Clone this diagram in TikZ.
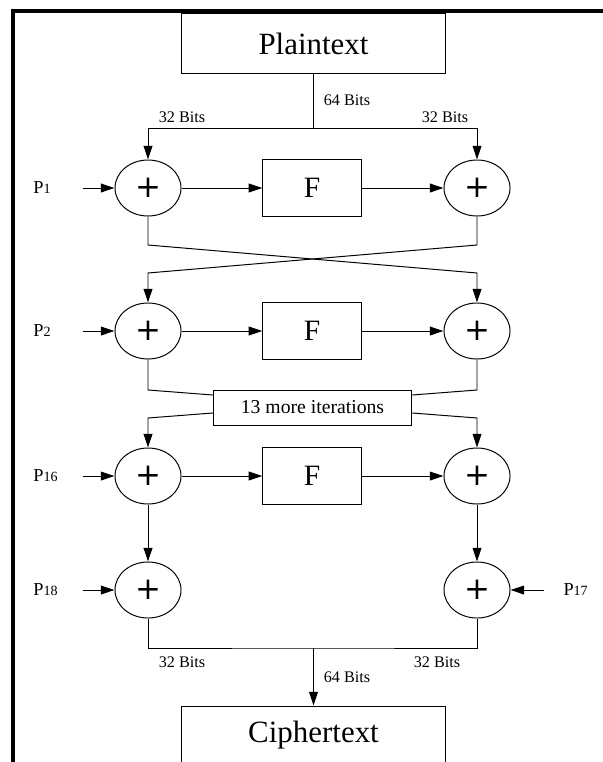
\documentclass[tikz,border=0pt]{standalone}
\usepackage{fontspec}
\setmainfont{Liberation Serif}
\newfontfamily\plusfont{DejaVu Sans}
\usetikzlibrary{arrows.meta,shapes.geometric}
\newcommand{\subkey}[1]{P{\fontsize{10}{10}\selectfont #1}}

\begin{document}
\begin{tikzpicture}[x=0.025cm,y=-0.025cm,line width=0.7pt,>={Triangle[length=3.4mm,width=2.2mm]},
  xorop/.style={draw,ellipse,minimum width=1.65cm,minimum height=1.4cm,inner sep=0pt,
    font=\plusfont\fontsize{22}{22}\selectfont},
  ffun/.style={draw,minimum width=2.46cm,minimum height=1.42cm,inner sep=0pt,
    font=\fontsize{21}{24}\selectfont},
  bigbox/.style={draw,minimum width=6.6cm,minimum height=1.475cm,inner sep=0pt,
    font=\fontsize{22}{26}\selectfont},
  iterbox/.style={draw,minimum width=4.96cm,minimum height=0.875cm,inner sep=0pt,
    font=\fontsize{14}{16}\selectfont},
  keyin/.style={anchor=west,inner sep=0pt,text width=1.225cm,font=\fontsize{13}{15}\selectfont},
  lbl/.style={inner sep=0pt,font=\fontsize{11.5}{13}\selectfont}]
  \clip (0,0) rectangle (603,762);
  % marco
  \draw[line width=2.4pt] (603,11) -- (13,11) -- (13,780);
  % cajas
  \node[bigbox] (plain) at (313.5,43.5) {Plaintext};
  \node[bigbox] (cipher) at (313.5,735.5) {Ciphertext};
  \node[iterbox] (iter) at (312.5,407.5) {13 more iterations};
  % xor y F
  \node[xorop] (l1) at (148,188) {+};
  \node[xorop] (r1) at (477,188) {+};
  \node[ffun] (f1) at (312,188) {F};
  \node[xorop] (l2) at (148,331) {+};
  \node[xorop] (r2) at (477,331) {+};
  \node[ffun] (f2) at (312,331) {F};
  \node[xorop] (l3) at (148,476) {+};
  \node[xorop] (r3) at (477,476) {+};
  \node[ffun] (f3) at (312,476) {F};
  \node[xorop] (l4) at (148,590) {+};
  \node[xorop] (r4) at (477,590) {+};
  % subclaves
  \node[keyin] (p1) at (33,188) {\subkey{1}};
  \node[keyin] (p2) at (33,331) {\subkey{2}};
  \node[keyin] (p16) at (33,476) {\subkey{16}};
  \node[keyin] (p18) at (33,590) {\subkey{18}};
  \node[anchor=west,inner ysep=0pt,inner xsep=0.475cm,font=\fontsize{13}{15}\selectfont]
    (p17) at (544,590) {\subkey{17}};
  % etiquetas
  \node[lbl] (b64a) at (347,100) {64 Bits};
  \node[lbl] (b32a) at (182,117) {32 Bits};
  \node[lbl] (b32b) at (445,117) {32 Bits};
  \node[lbl] (b32c) at (182,662) {32 Bits};
  \node[lbl] (b32d) at (437,662) {32 Bits};
  \node[lbl] (b64b) at (347,677) {64 Bits};
  % puntos de paso
  \coordinate (split) at (313.5,128);
  \coordinate (join) at (313.5,648);
  \coordinate (xa) at (148,245);
  \coordinate (xb) at (477,245);
  \coordinate (xc) at (148,273);
  \coordinate (xd) at (477,273);
  \coordinate (ya) at (148,390);
  \coordinate (yb) at (477,390);
  \coordinate (yc) at (148,418);
  \coordinate (yd) at (477,418);
  % entrada
  \draw (plain) -- (split);
  \draw[->] (split) -| (l1);
  \draw[->] (split) -| (r1);
  % rondas
  \draw[->] (p1) -- (l1);
  \draw[->] (l1) -- (f1);
  \draw[->] (f1) -- (r1);
  \draw[->] (l1) -- (xa) -- (xd) -- (r2);
  \draw[->] (r1) -- (xb) -- (xc) -- (l2);
  \draw[->] (p2) -- (l2);
  \draw[->] (l2) -- (f2);
  \draw[->] (f2) -- (r2);
  \draw (l2) -- (ya) -- (iter.west |- 0,395);
  \draw (r2) -- (yb) -- (iter.east |- 0,395);
  \draw[->] (iter.west |- 0,413) -- (yc) -- (l3);
  \draw[->] (iter.east |- 0,413) -- (yd) -- (r3);
  \draw[->] (p16) -- (l3);
  \draw[->] (l3) -- (f3);
  \draw[->] (f3) -- (r3);
  % salida
  \draw[->] (l3) -- (l4);
  \draw[->] (r3) -- (r4);
  \draw[->] (p18) -- (l4);
  \draw[->] (p17) -- (r4);
  \draw (l4) |- (join) -| (r4);
  \draw[->] (join) -- (cipher);
\end{tikzpicture}
\end{document}
